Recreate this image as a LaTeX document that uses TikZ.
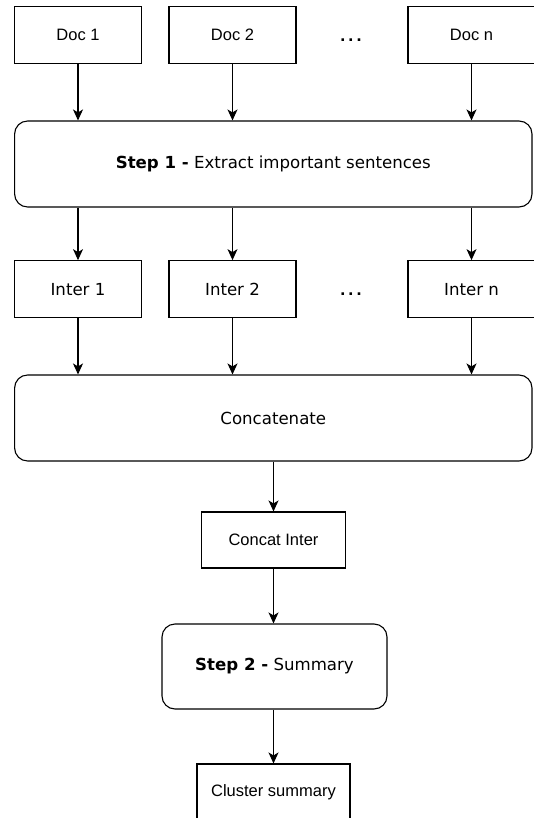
\documentclass[tikz,border=0pt]{standalone}
\usepackage{fontspec}
\setmainfont{Liberation Sans}
\newfontfamily\dvfont{DejaVu Sans}
\usetikzlibrary{arrows.meta}
\begin{document}
\begin{tikzpicture}[x=1pt,y=-1pt,
  box/.style={draw=black, line width=1.1pt, fill=white, rectangle, inner sep=0pt, minimum width=127pt, minimum height=57pt, font=\fontsize{16.5}{20}\selectfont},
  dvbox/.style={box, font=\dvfont\fontsize{16.6}{20}\selectfont},
  rbox/.style={draw=black, line width=1.1pt, fill=white, rectangle, rounded corners=13pt, inner sep=0pt, font=\dvfont\fontsize{16.6}{20}\selectfont},
  dots/.style={inner sep=0pt, anchor=base, font=\bfseries\fontsize{18}{20}\selectfont},
  arr/.style={line width=1.1pt, -{Stealth[length=11pt, width=10pt, inset=3pt]}}
]
\useasboundingbox (0,0) rectangle (533,818);

% row 1
\node[box] (d1) at (78,35.2) {Doc 1};
\node[box] (d2) at (232.5,35.2) {Doc 2};
\node[box] (dn) at (471.5,35.2) {Doc n};
\node[dots] (e1) at (351,41.8) {.\hspace{3.2pt}.\hspace{3.2pt}.};

% step 1
\node[rbox, minimum width=517.4pt, minimum height=86pt] (s1) at (273.3,164) {\textbf{Step 1 -} Extract important sentences};

% row 2
\node[dvbox] (i1) at (78,289.2) {Inter 1};
\node[dvbox] (i2) at (232.5,289.2) {Inter 2};
\node[dvbox] (in) at (471.5,289.2) {Inter n};
\node[dots] (e2) at (351,295.8) {.\hspace{3.2pt}.\hspace{3.2pt}.};

% concatenate
\node[rbox, minimum width=517.4pt, minimum height=86pt] (cc) at (273.3,418) {Concatenate};

% concat inter
\node[box, minimum width=144pt, minimum height=56pt] (ci) at (273.5,540) {Concat Inter};

% step 2
\node[rbox, minimum width=225pt, minimum height=85pt] (s2) at (274.5,666.5) {\textbf{Step 2 -} Summary};

% cluster summary
\node[box, minimum width=153pt, minimum height=56pt] (cs) at (273.5,792) {Cluster summary};

% connectors
\draw[arr] (d1.south) -- (d1.south |- s1.north);
\draw[arr] (d2.south) -- (d2.south |- s1.north);
\draw[arr] (dn.south) -- (dn.south |- s1.north);
\draw[arr] (i1.north |- s1.south) -- (i1.north);
\draw[arr] (i2.north |- s1.south) -- (i2.north);
\draw[arr] (in.north |- s1.south) -- (in.north);
\draw[arr] (i1.south) -- (i1.south |- cc.north);
\draw[arr] (i2.south) -- (i2.south |- cc.north);
\draw[arr] (in.south) -- (in.south |- cc.north);
\draw[arr] (ci.north |- cc.south) -- (ci.north);
\draw[arr] (ci.south) -- (ci.south |- s2.north);
\draw[arr] (cs.north |- s2.south) -- (cs.north);
\end{tikzpicture}
\end{document}
